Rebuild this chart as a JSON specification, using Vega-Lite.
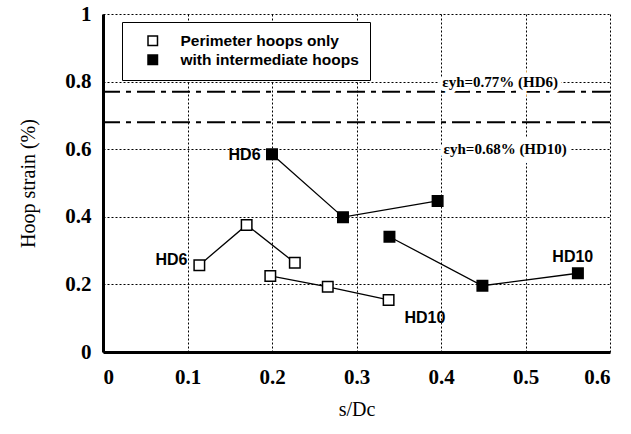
{
  "$schema": "https://vega.github.io/schema/vega-lite/v6.json",
  "width": 507,
  "height": 338,
  "autosize": "none",
  "padding": {"left": 103, "top": 14, "right": 21, "bottom": 82},
  "background": "white",
  "config": {
    "font": "Liberation Serif",
    "view": {"stroke": null},
    "axis": {
      "domainColor": "black",
      "domainWidth": 3,
      "gridColor": "black",
      "gridDash": [2, 2],
      "gridWidth": 1,
      "gridOpacity": 1,
      "ticks": false,
      "labelFont": "Liberation Serif",
      "labelFontSize": 21,
      "labelFontWeight": "bold",
      "labelColor": "black",
      "titleFont": "Liberation Serif",
      "titleFontSize": 20,
      "titleFontWeight": "normal",
      "titleColor": "black"
    }
  },
  "datasets": {
    "pts": [
      {"x": 0.114, "y": 0.257, "series": "P-HD6", "type": "Perimeter hoops only"},
      {"x": 0.170, "y": 0.376, "series": "P-HD6", "type": "Perimeter hoops only"},
      {"x": 0.227, "y": 0.264, "series": "P-HD6", "type": "Perimeter hoops only"},
      {"x": 0.198, "y": 0.225, "series": "P-HD10", "type": "Perimeter hoops only"},
      {"x": 0.266, "y": 0.193, "series": "P-HD10", "type": "Perimeter hoops only"},
      {"x": 0.338, "y": 0.154, "series": "P-HD10", "type": "Perimeter hoops only"},
      {"x": 0.200, "y": 0.585, "series": "I-HD6", "type": "with intermediate hoops"},
      {"x": 0.284, "y": 0.399, "series": "I-HD6", "type": "with intermediate hoops"},
      {"x": 0.396, "y": 0.447, "series": "I-HD6", "type": "with intermediate hoops"},
      {"x": 0.339, "y": 0.341, "series": "I-HD10", "type": "with intermediate hoops"},
      {"x": 0.449, "y": 0.196, "series": "I-HD10", "type": "with intermediate hoops"},
      {"x": 0.562, "y": 0.233, "series": "I-HD10", "type": "with intermediate hoops"}
    ],
    "refs": [{"y": 0.77}, {"y": 0.68}],
    "reflabels": [
      {"x": 0.470, "y": 0.80, "label": "εyh=0.77% (HD6)"},
      {"x": 0.476, "y": 0.60, "label": "εyh=0.68% (HD10)"}
    ],
    "labels": [
      {"x": 0.1675, "y": 0.583, "label": "HD6"},
      {"x": 0.081, "y": 0.272, "label": "HD6"},
      {"x": 0.381, "y": 0.100, "label": "HD10"},
      {"x": 0.556, "y": 0.282, "label": "HD10"}
    ]
  },
  "layer": [
    {
      "data": {"name": "refs"},
      "mark": {"type": "rule", "color": "black", "strokeWidth": 2, "strokeDash": [18, 6, 5, 6]},
      "encoding": {
        "y": {"field": "y", "type": "quantitative", "scale": {"domain": [0, 1]}}
      }
    },
    {
      "data": {"name": "reflabels"},
      "mark": {"type": "text", "font": "Liberation Serif", "fontSize": 15, "fontWeight": "bold", "stroke": "white", "strokeWidth": 8, "color": "white"},
      "encoding": {
        "x": {"field": "x", "type": "quantitative"},
        "y": {"field": "y", "type": "quantitative"},
        "text": {"field": "label"}
      }
    },
    {
      "data": {"name": "reflabels"},
      "mark": {"type": "text", "font": "Liberation Serif", "fontSize": 15, "fontWeight": "bold", "color": "black"},
      "encoding": {
        "x": {"field": "x", "type": "quantitative"},
        "y": {"field": "y", "type": "quantitative"},
        "text": {"field": "label"}
      }
    },
    {
      "data": {"name": "pts"},
      "mark": {"type": "line", "color": "black", "strokeWidth": 1.3},
      "encoding": {
        "x": {"field": "x", "type": "quantitative"},
        "y": {"field": "y", "type": "quantitative"},
        "detail": {"field": "series"}
      }
    },
    {
      "data": {"name": "pts"},
      "mark": {"type": "point", "shape": "square", "size": 110, "stroke": "black", "strokeWidth": 1.5, "filled": true, "opacity": 1},
      "encoding": {
        "x": {
          "field": "x", "type": "quantitative",
          "scale": {"domain": [0, 0.6], "nice": false},
          "axis": {"values": [0, 0.1, 0.2, 0.3, 0.4, 0.5, 0.6], "format": "~g", "title": "s/Dc", "labelPadding": 14, "titlePadding": 12, "labelFont": "Liberation Serif"}
        },
        "y": {
          "field": "y", "type": "quantitative",
          "scale": {"domain": [0, 1], "nice": false},
          "axis": {"values": [0, 0.2, 0.4, 0.6, 0.8, 1], "format": "~g", "title": "Hoop strain (%)", "labelPadding": 12, "titlePadding": 26, "labelFont": "Liberation Serif"}
        },
        "fill": {
          "field": "type", "type": "nominal",
          "scale": {"domain": ["Perimeter hoops only", "with intermediate hoops"], "range": ["white", "black"]},
          "legend": {
            "title": null,
            "orient": "none",
            "legendX": 19,
            "legendY": 8,
            "fillColor": "white",
            "strokeColor": "black",
            "padding": 11,
            "symbolOffset": 12,
            "symbolType": "square",
            "symbolSize": 90,
            "symbolStrokeColor": "black",
            "symbolStrokeWidth": 1.5,
            "labelFont": "Liberation Sans",
            "labelFontSize": 15.5,
            "labelFontWeight": "bold",
            "labelColor": "black",
            "labelOffset": 20,
            "labelLimit": 400,
            "rowPadding": 2
          }
        }
      }
    },
    {
      "data": {"name": "labels"},
      "mark": {"type": "text", "font": "Liberation Sans", "fontSize": 16, "fontWeight": "bold", "color": "black"},
      "encoding": {
        "x": {"field": "x", "type": "quantitative"},
        "y": {"field": "y", "type": "quantitative"},
        "text": {"field": "label"}
      }
    }
  ]
}
